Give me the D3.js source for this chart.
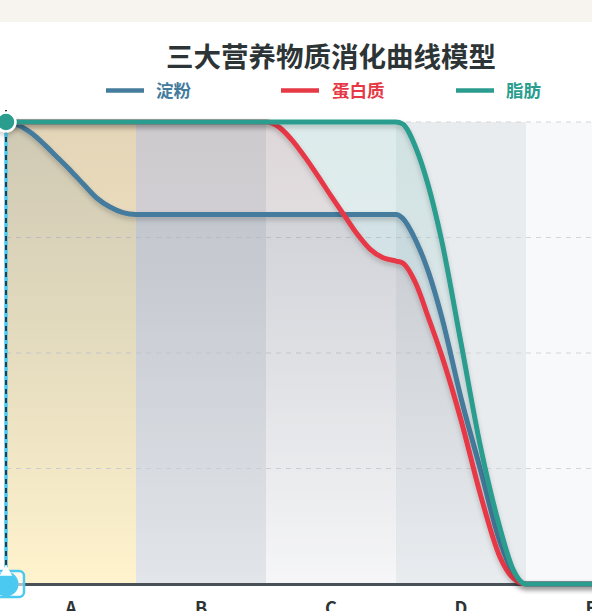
<!DOCTYPE html>
<meta charset="utf-8">
<script src="https://d3js.org/d3.v7.min.js"></script>
<style>
  html, body { margin: 0; padding: 0; overflow: hidden; background: #fff; }
  text { font-family: "Noto Sans CJK SC", "Noto Sans", sans-serif; font-weight: 700; }
</style>
<svg id="chart" width="592" height="611"></svg>
<script>
  // categories and stage fills
  var categories = ["A", "B", "C", "D", "E"];
  var bandColors = ["#fff3cd", "#e2e5ea", "#f6f6f8", "#e9ecef", "#f8f9fb"];
  var yTicks = [0, 25, 50, 75, 100];

  var seriesNames = ["淀粉", "蛋白质", "脂肪"];
  var seriesColors = ["#457b9d", "#e63946", "#2a9d8f"];

  // x is in stages: 0 = left edge of A, 1 = left edge of B, ...
  var starchStages = [0, 0.1, 0.2, 0.3, 0.4, 0.5, 0.6, 0.7, 0.8, 0.9, 1, 2, 2.95, 3, 3.05, 3.15, 3.25, 3.35, 3.5, 3.65, 3.8, 3.9, 4, 5];
  var starchValues = [100, 99.25, 97.5, 95, 92.2, 89.4, 86.4, 83.5, 81.6, 80.4, 80, 80, 80, 80, 79.2, 74.5, 67.5, 58, 40.3, 24.7, 9.1, 2.6, 0, 0];

  var proteinStages = [0, 1, 2, 2.1, 2.2, 2.3, 2.4, 2.5, 2.6, 2.7, 2.8, 2.9, 3, 3.05, 3.15, 3.25, 3.35, 3.5, 3.65, 3.8, 3.9, 4, 5];
  var proteinValues = [100, 100, 100, 98.9, 96.1, 92.4, 88.3, 84, 79.9, 75.8, 72.5, 70.6, 69.9, 69.5, 65.2, 57.6, 49.6, 35.5, 19.3, 5.8, 1.3, 0, 0];

  var fatStages = [0, 1, 2, 2.95, 3, 3.05, 3.15, 3.25, 3.35, 3.5, 3.65, 3.8, 3.9, 4, 5];
  var fatValues = [100, 100, 100, 100, 100, 99.6, 94.6, 86.1, 74.5, 52.2, 29.7, 12.1, 3.2, 0, 0];

  var pointerStage = 0;
  var pointerValue = 100;

  var allStages = [starchStages, proteinStages, fatStages];
  var allValues = [starchValues, proteinValues, fatValues];

  var svg = d3.select("#chart");
  var defs = svg.append("defs");

  // plot runs past the right edge of the window, like the original
  var plotLeft = 6, plotRight = 656, plotTop = 122, plotBottom = 584;

  var band = d3.scaleBand().domain(categories).range([plotLeft, plotRight]);
  var x = d3.scaleLinear().domain([0, 5]).range([plotLeft, plotRight]);
  var y = d3.scaleLinear().domain([0, 100]).range([plotBottom, plotTop]);

  // top strip of the page
  svg.append("rect").attr("width", 592).attr("height", 22).attr("fill", "#f7f4ef");

  // title
  svg.append("text")
    .attr("x", 331).attr("y", 67)
    .attr("text-anchor", "middle")
    .attr("font-size", 27.5)
    .attr("fill", "#2d3436")
    .text("三大营养物质消化曲线模型");

  // legend
  var legendLine = [106, 281, 456];
  var legendText = [156, 332, 506];
  seriesNames.forEach(function (name, i) {
    svg.append("line")
      .attr("x1", legendLine[i]).attr("x2", legendLine[i] + 38)
      .attr("y1", 90.5).attr("y2", 90.5)
      .attr("stroke", seriesColors[i])
      .attr("stroke-width", 4.5);
    svg.append("text")
      .attr("x", legendText[i]).attr("y", 97)
      .attr("font-size", 17.5)
      .attr("fill", seriesColors[i])
      .text(name);
  });

  // stage bands
  svg.append("g").selectAll("rect")
    .data(categories)
    .enter().append("rect")
      .attr("x", function (d) { return band(d); })
      .attr("y", plotTop)
      .attr("width", band.bandwidth())
      .attr("height", plotBottom - plotTop)
      .attr("fill", function (d, i) { return bandColors[i]; });

  // grid
  svg.append("g").selectAll("line")
    .data(yTicks.slice(1))
    .enter().append("line")
      .attr("x1", plotLeft).attr("x2", plotRight)
      .attr("y1", function (d) { return y(d); })
      .attr("y2", function (d) { return y(d); })
      .attr("stroke", "#d3d5d9")
      .attr("stroke-width", 1.2)
      .attr("stroke-dasharray", "5,5");

  // gradients + shadow for the lines
  var fadeOpacity = [0.13, 0.11, 0.13];
  seriesColors.forEach(function (c, i) {
    var g = defs.append("linearGradient")
      .attr("id", "fade" + i)
      .attr("gradientUnits", "userSpaceOnUse")
      .attr("x1", 0).attr("x2", 0)
      .attr("y1", plotTop).attr("y2", plotBottom);
    g.append("stop").attr("offset", 0).attr("stop-color", c).attr("stop-opacity", fadeOpacity[i]);
    g.append("stop").attr("offset", 1).attr("stop-color", c).attr("stop-opacity", 0);
  });
  var shadow = defs.append("filter").attr("id", "lineShadow")
    .attr("filterUnits", "userSpaceOnUse")
    .attr("x", -30).attr("y", 90).attr("width", 720).attr("height", 520);
  shadow.append("feDropShadow")
    .attr("dx", 0).attr("dy", 3).attr("stdDeviation", 2.5)
    .attr("flood-color", "#000").attr("flood-opacity", 0.2);

  function pairs(i) {
    return allStages[i].map(function (s, j) { return [s, allValues[i][j]]; });
  }

  var area = d3.area()
    .x(function (d) { return x(d[0]); })
    .y0(y(0))
    .y1(function (d) { return y(d[1]); })
    .curve(d3.curveMonotoneX);

  var line = d3.line()
    .x(function (d) { return x(d[0]); })
    .y(function (d) { return y(d[1]); })
    .curve(d3.curveMonotoneX);

  [2, 1, 0].forEach(function (i) {
    svg.append("path")
      .attr("d", area(pairs(i)))
      .attr("fill", "url(#fade" + i + ")");
  });

  // x axis
  var axis = svg.append("g")
    .attr("transform", "translate(0," + plotBottom + ")")
    .call(d3.axisBottom(band).tickSize(0).tickPadding(18));
  axis.select(".domain").attr("stroke", "#495057").attr("stroke-width", 3);
  axis.selectAll("text")
    .attr("font-size", 18)
    .attr("fill", "#2d3436")
    .style("font-family", '"Noto Sans CJK SC", "Noto Sans", sans-serif')
    .style("font-weight", 700);

  // lines, fat ends up on top
  [0, 1, 2].forEach(function (i) {
    svg.append("path")
      .attr("d", line(pairs(i)))
      .attr("fill", "none")
      .attr("stroke", seriesColors[i])
      .attr("stroke-width", 5)
      .attr("filter", "url(#lineShadow)");
  });

  // pointer line
  var px = x(pointerStage), py = y(pointerValue);
  svg.append("line")
    .attr("x1", px).attr("x2", px)
    .attr("y1", py).attr("y2", plotBottom)
    .attr("stroke", "#4cc9f0").attr("stroke-width", 3.5);
  svg.append("line")
    .attr("x1", px).attr("x2", px)
    .attr("y1", py - 12).attr("y2", plotBottom - 14)
    .attr("stroke", "#343a40").attr("stroke-width", 2)
    .attr("stroke-dasharray", "5,4");

  // pointer dot
  svg.append("circle")
    .attr("cx", px).attr("cy", py).attr("r", 9.5)
    .attr("fill", seriesColors[2])
    .attr("stroke", "#fff").attr("stroke-width", 2.5)
    .attr("filter", "url(#lineShadow)");

  // pointer handle on the axis
  svg.append("rect")
    .attr("x", -20).attr("y", plotBottom - 13)
    .attr("width", 44).attr("height", 26).attr("rx", 5)
    .attr("fill", "#fff").attr("fill-opacity", 0.6)
    .attr("stroke", "#4cc9f0").attr("stroke-width", 2.5);
  svg.append("circle")
    .attr("cx", px).attr("cy", plotBottom)
    .attr("r", 12.5)
    .attr("fill", "#4cc9f0");
  svg.append("path")
    .attr("d", d3.symbol().type(d3.symbolTriangle).size(70)())
    .attr("transform", "translate(" + px + "," + (plotBottom - 12) + ")")
    .attr("fill", "#fff");
</script>
